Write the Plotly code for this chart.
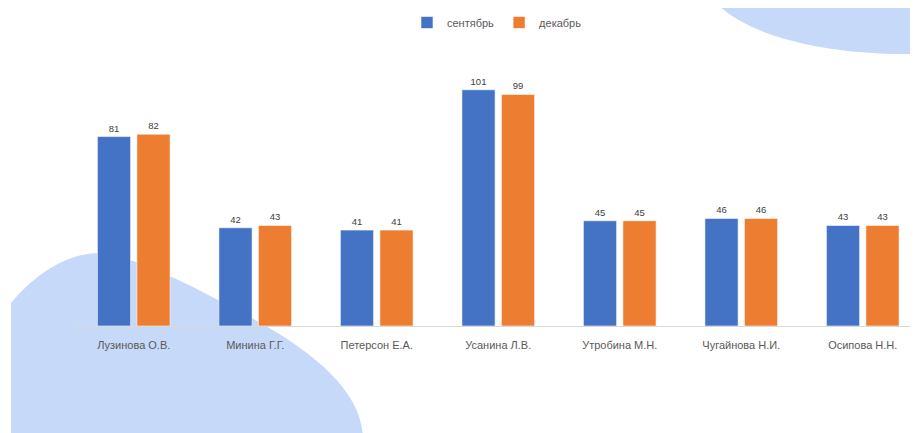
import plotly.graph_objects as go

categories = ["Лузинова О.В.", "Минина Г.Г.", "Петерсон Е.А.", "Усанина Л.В.",
              "Утробина М.Н.", "Чугайнова Н.И.", "Осипова Н.Н."]
september = [81, 42, 41, 101, 45, 46, 43]
december = [82, 43, 41, 99, 45, 46, 43]
series_names = ["сентябрь", "декабрь"]

# page body has an 8px margin; the figure is sized/shifted to compensate
OFF = 8
W, H = 918 - OFF, 433 - OFF
ML, MR, MT, MB = 73 - OFF, 0, 44 - OFF, 107
PW, PH = W - ML - MR, H - MT - MB

def px(x):
    return (x - OFF - ML) / PW

def py(y):
    return (H - MB - (y - OFF)) / PH

def path(cmds):
    out = []
    for c in cmds:
        if isinstance(c, str):
            out.append(c)
        else:
            out.append(f"{px(c[0]):.5f},{py(c[1]):.5f}")
    return " ".join(out)

blob_color = "#C6D9F8"
blob_left = path(["M", (11, 440), "L", (11, 303), "C", (30, 280), (60, 255), (95, 253),
                  "C", (130, 252), (200, 290), (250, 317),
                  "C", (320, 355), (363, 395), (363, 440), "Z"])
blob_right = path(["M", (715, 0), "C", (735, 25), (800, 53), (907, 53),
                   "L", (925, 53), "L", (925, 0), "Z"])

fig = go.Figure()
colors = ["#4472C4", "#ED7D31"]
for name, vals, col in zip(series_names, [september, december], colors):
    fig.add_trace(go.Bar(
        x=categories, y=vals, name=name,
        marker=dict(color=col, line=dict(color="rgba(255,255,255,0.7)", width=0.8)),
        text=[str(v) for v in vals], textposition="outside",
        textfont=dict(family="Liberation Sans, Arial", size=9.5, color="#404040"),
        cliponaxis=False,
    ))

fig.update_layout(
    width=W, height=H,
    margin=dict(l=ML, r=MR, t=MT, b=MB),
    paper_bgcolor="white", plot_bgcolor="rgba(0,0,0,0)",
    barmode="group", bargap=0.35, bargroupgap=0.16,
    showlegend=True,
    legend=dict(orientation="h", x=px(497), xanchor="center", y=py(21), yanchor="middle",
                font=dict(family="Liberation Sans, Arial", size=11, color="#595959"),
                bgcolor="rgba(0,0,0,0)", itemwidth=30),
    xaxis=dict(range=[-0.5, -0.5 + PW / 121.5], showgrid=False, zeroline=False,
               showline=True, linecolor="#D9D9D9", linewidth=1,
               tickfont=dict(family="Liberation Sans, Arial", size=11, color="#595959"),
               ticks="", ticklabelstandoff=9, fixedrange=True),
    yaxis=dict(range=[0, PH / 2.347], visible=False, showgrid=False, zeroline=False),
    shapes=[
        dict(type="path", path=blob_left, xref="paper", yref="paper",
             fillcolor=blob_color, line=dict(width=0), layer="below"),
        dict(type="path", path=blob_right, xref="paper", yref="paper",
             fillcolor=blob_color, line=dict(width=0), layer="below"),
    ],
)

fig.write_html("out.html")
